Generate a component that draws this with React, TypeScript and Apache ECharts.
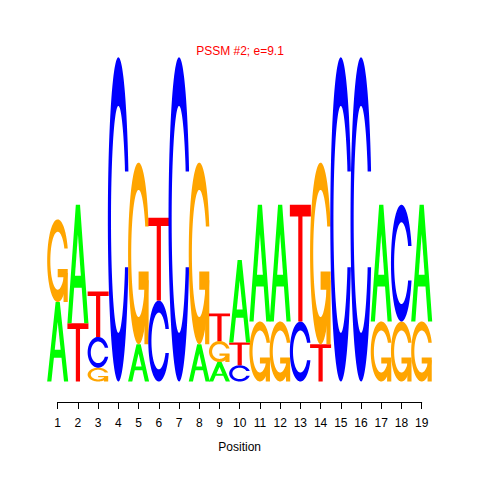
import React, { useEffect, useRef } from "react";
import * as echarts from "echarts";

const positions = [1, 2, 3, 4, 5, 6, 7, 8, 9, 10, 11, 12, 13, 14, 15, 16, 17, 18, 19];
const heightA = [0.49, 0.73, 0, 0, 0.23, 0, 0, 0.23, 0.12, 0.51, 0.72, 0.72, 0, 0, 0, 0, 0.72, 0, 0.72];
const heightC = [0, 0, 0.19, 2.0, 0, 0.5, 2.0, 0, 0, 0.1, 0, 0, 0.37, 0, 2.0, 2.0, 0, 0.72, 0];
const heightG = [0.51, 0, 0.085, 0, 1.12, 0, 0, 1.12, 0.13, 0, 0.37, 0.37, 0, 1.12, 0, 0, 0.37, 0.37, 0.37];
const heightT = [0, 0.36, 0.28, 0, 0, 0.51, 0, 0, 0.17, 0.14, 0, 0, 0.72, 0.23, 0, 0, 0, 0, 0];
const letters = ["A", "C", "G", "T"];
const letterColors: Record<string, string> = { A: "#00FF00", C: "#0000FF", G: "#FFA500", T: "#FF0000" };
const titleText = "PSSM #2; e=9.1";
const xName = "Position";

type Pt = [number, number];

function ringC(): Pt[] {
  const n = 40;
  const a1: number[] = [];
  const a2: number[] = [];
  for (let i = 0; i < n; i++) a1.push(0.3 + Math.PI / 2 + ((Math.PI - (0.3 + Math.PI / 2)) * i) / (n - 1));
  for (let i = 0; i < n; i++) a2.push(Math.PI + ((0.5 * Math.PI) * i) / (n - 1));
  const xl1 = a1.map((a) => 0.5 + 0.5 * Math.sin(a));
  const yl1 = a1.map((a) => 0.5 + 0.5 * Math.cos(a));
  const xl2 = a2.map((a) => 0.5 + 0.5 * Math.sin(a));
  const yl2 = a2.map((a) => 0.5 + 0.5 * Math.cos(a));
  const xl = [...xl1, ...xl2];
  const yl = [...yl1, ...yl2];
  const x = [...xl, ...xl.slice().reverse()];
  const y = [...yl, ...yl.slice().reverse().map((v) => 1 - v)];
  const maxY = Math.max(...yl1);
  let xi1 = a1.map((a) => 0.5 + 0.35 * Math.sin(a));
  let yi1 = a1.map((a) => 0.5 + 0.35 * Math.cos(a));
  const keep = yi1.map((v) => v <= maxY);
  xi1 = xi1.filter((_, i) => keep[i]);
  yi1 = yi1.filter((_, i) => keep[i]);
  yi1[0] = maxY;
  const xi2 = a2.map((a) => 0.5 + 0.35 * Math.sin(a));
  const yi2 = a2.map((a) => 0.5 + 0.35 * Math.cos(a));
  const xi = [...xi1, ...xi2];
  const yi = [...yi1, ...yi2];
  const x1 = [...xi, ...xi.slice().reverse()];
  const y1 = [...yi, ...yi.slice().reverse().map((v) => 1 - v)];
  const X = [...x, ...x1.slice().reverse()];
  const Y = [...y, ...y1.slice().reverse()];
  return X.map((v, i) => [v, Y[i]] as Pt);
}

const shapeC = ringC();
const r1 = 0.5 + 0.5 * Math.sin(0.3 + Math.PI / 2);

function glyph(ch: string): { pts: Pt[]; fill: string }[] {
  const col = letterColors[ch];
  if (ch === "A") {
    return [
      { pts: [[0, 0], [4, 10], [6, 10], [10, 0], [8, 0], [6.8, 3], [3.2, 3], [2, 0]].map((p) => [p[0] / 10, p[1] / 10] as Pt), fill: col },
      { pts: [[3.6, 4], [5, 7.5], [6.4, 4]].map((p) => [p[0] / 10, p[1] / 10] as Pt), fill: "#FFFFFF" },
    ];
  }
  if (ch === "T") {
    return [{ pts: [[0, 10], [10, 10], [10, 9], [6, 9], [6, 0], [4, 0], [4, 9], [0, 9]].map((p) => [p[0] / 10, p[1] / 10] as Pt), fill: col }];
  }
  if (ch === "C") return [{ pts: shapeC, fill: col }];
  return [
    { pts: shapeC, fill: col },
    { pts: [[r1, 0.4], [0.5, 0.4], [0.5, 0.3], [r1 - 0.2, 0.3], [r1 - 0.2, 0], [r1, 0]], fill: col },
  ];
}

const LETTER_W = 1.04;

export default function App() {
  const ref = useRef<HTMLDivElement>(null);
  useEffect(() => {
    if (!ref.current) return;
    const chart = echarts.init(ref.current, undefined, { renderer: "svg" });
    const data = positions.map((p, i) => [p, heightA[i], heightC[i], heightG[i], heightT[i]]);
    const renderItem = (params: any, api: any) => {
      const p = api.value(0);
      const hs = letters.map((l, k) => ({ l, h: api.value(k + 1) as number })).filter((o) => o.h > 0);
      hs.sort((a, b) => a.h - b.h);
      let base = 0;
      const children: any[] = [];
      for (const o of hs) {
        const bl = api.coord([p - LETTER_W / 2, base]);
        const tr = api.coord([p + LETTER_W / 2, base + o.h]);
        const w = tr[0] - bl[0];
        const h = bl[1] - tr[1];
        for (const part of glyph(o.l)) {
          children.push({
            type: "polygon",
            shape: { points: part.pts.map(([ux, uy]) => [bl[0] + ux * w, bl[1] - uy * h]) },
            style: { fill: part.fill, stroke: null },
          });
        }
        base += o.h;
      }
      return { type: "group", children };
    };
    chart.setOption({
      animation: false,
      backgroundColor: "#FFFFFF",
      title: {
        text: titleText,
        left: "center",
        top: 45,
        padding: 0,
        textStyle: { color: "#FF0000", fontSize: 12, fontWeight: "normal", fontFamily: "Liberation Sans" },
      },
      grid: { left: 57.7, right: 58.3, top: 57.3, bottom: 98.5, containLabel: false },
      xAxis: {
        type: "value",
        min: 1,
        max: 19,
        interval: 1,
        offset: 20.5,
        axisLine: { show: true, onZero: false, lineStyle: { color: "#000", width: 1 } },
        axisTick: { show: true, length: 7, lineStyle: { color: "#000" } },
        axisLabel: { color: "#000", fontSize: 12, margin: 15, fontFamily: "Liberation Sans" },
        splitLine: { show: false },
        name: xName,
        nameLocation: "middle",
        nameGap: 39,
        nameTextStyle: { color: "#000", fontSize: 12, fontFamily: "Liberation Sans" },
      },
      yAxis: { type: "value", min: 0, max: 2, show: false, splitLine: { show: false } },
      series: [
        {
          type: "custom",
          renderItem,
          data,
          clip: false,
          encode: { x: 0, y: 1 },
        },
      ],
    });
    return () => chart.dispose();
  }, []);
  return <div ref={ref} style={{ position: "fixed", left: 0, top: 0, width: 480, height: 480 }} />;
}
